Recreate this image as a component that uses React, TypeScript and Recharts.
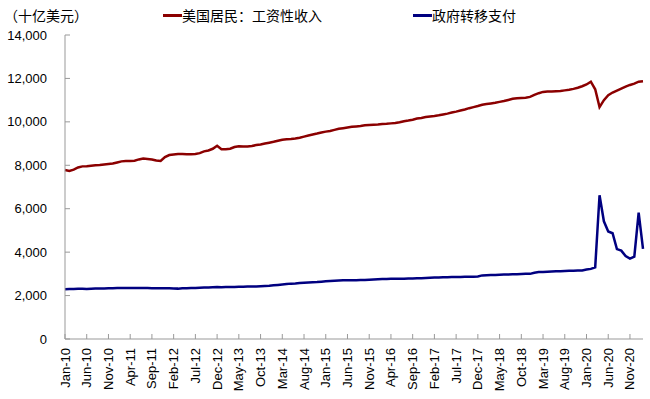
import React from "react";
import { LineChart, Line, XAxis, YAxis } from "recharts";

const MONTHS = ["Jan", "Feb", "Mar", "Apr", "May", "Jun", "Jul", "Aug", "Sep", "Oct", "Nov", "Dec"];
const YEARS = ["10", "11", "12", "13", "14", "15", "16", "17", "18", "19", "20", "21"];

// 美国居民：工资性收入 (十亿美元), Jan-10 .. Feb-21
const wages = [
	7780, 7740, 7800, 7900, 7950, 7960, 7980, 8000, 8010, 8040, 8060, 8080,
	8130, 8180, 8200, 8200, 8210, 8270, 8310, 8290, 8270, 8220, 8200, 8380,
	8470, 8500, 8520, 8520, 8510, 8510, 8520, 8560, 8640, 8680, 8760, 8900,
	8740, 8740, 8760, 8840, 8880, 8870, 8860, 8890, 8930, 8960, 9000, 9040,
	9080, 9130, 9180, 9200, 9210, 9230, 9270, 9320, 9370, 9420, 9460, 9510,
	9550, 9580, 9630, 9680, 9710, 9740, 9770, 9790, 9810, 9840, 9860, 9870,
	9880, 9900, 9910, 9930, 9950, 9980, 10030, 10060, 10100, 10150, 10180, 10220,
	10250, 10270, 10300, 10340, 10380, 10430, 10470, 10520, 10570, 10630, 10680, 10730,
	10790, 10820, 10850, 10880, 10920, 10960, 11010, 11060, 11090, 11100, 11110, 11150,
	11240, 11320, 11380, 11400, 11400, 11410, 11420, 11450, 11480, 11520, 11570, 11640,
	11720, 11850, 11500, 10680, 11000, 11230, 11350, 11440, 11530, 11620, 11700, 11760,
	11850, 11870,
];

// 政府转移支付 (十亿美元), Jan-10 .. Feb-21
const transfers = [
	2290, 2300, 2300, 2310, 2310, 2300, 2310, 2320, 2330, 2330, 2340, 2340,
	2350, 2350, 2350, 2350, 2350, 2350, 2350, 2350, 2340, 2340, 2340, 2340,
	2340, 2330, 2320, 2340, 2340, 2350, 2350, 2360, 2370, 2370, 2380, 2390,
	2380, 2390, 2400, 2400, 2410, 2410, 2420, 2420, 2420, 2430, 2440, 2450,
	2470, 2490, 2510, 2530, 2550, 2560, 2580, 2590, 2600, 2610, 2620, 2640,
	2660, 2670, 2680, 2690, 2700, 2700, 2710, 2710, 2720, 2720, 2730, 2740,
	2750, 2760, 2760, 2770, 2770, 2780, 2780, 2790, 2790, 2800, 2800, 2810,
	2820, 2830, 2830, 2840, 2840, 2850, 2850, 2860, 2870, 2870, 2870, 2880,
	2930, 2940, 2950, 2950, 2960, 2970, 2970, 2980, 2980, 2990, 3000, 3000,
	3050, 3080, 3090, 3100, 3110, 3120, 3120, 3130, 3140, 3140, 3150, 3160,
	3200, 3230, 3300, 6620, 5420, 4950, 4870, 4140, 4070, 3820, 3700, 3790,
	5820, 4150,
];

const yTicks = [0, 2000, 4000, 6000, 8000, 10000, 12000, 14000];

const categories = YEARS.flatMap((y) => MONTHS.map((m) => `${m}-${y}`)).slice(0, wages.length);

const data = categories.map((name, i) => ({ name, wages: wages[i], transfers: transfers[i] }));

const FONT = "'Liberation Sans', Arial, sans-serif";
const CJK = "'Noto Sans CJK SC', sans-serif";
const RED = "#8b0000";
const BLUE = "#000080";

function XTick(props: any) {
	const { x, y, payload } = props;
	return (
		<text
			transform={`translate(${x},${y}) rotate(-90)`}
			textAnchor="end"
			dominantBaseline="central"
			fontSize={13}
			fontFamily={FONT}
			fill="#000"
		>
			{payload.value}
		</text>
	);
}

function LegendItem({ left, color, label }: { left: number; color: string; label: string }) {
	return (
		<div style={{ position: "absolute", left, top: 6, display: "flex", alignItems: "center" }}>
			<div style={{ width: 19, height: 3, background: color }} />
			<span style={{ fontFamily: CJK, fontSize: 14, lineHeight: "18px", color: "#000" }}>{label}</span>
		</div>
	);
}

export default function App() {
	return (
		<div style={{ position: "absolute", left: 0, top: 0, width: 650, height: 399, background: "#fff" }}>
			<LineChart width={650} height={399} data={data} margin={{ top: 35, right: 7, left: 5, bottom: 0 }}>
				<XAxis
					dataKey="name"
					interval={4}
					height={60}
					tickSize={-5}
					tickMargin={14}
					tick={<XTick />}
					axisLine={{ stroke: "#999" }}
					tickLine={{ stroke: "#999" }}
				/>
				<YAxis
					width={60}
					domain={[0, 14000]}
					ticks={yTicks}
					tickSize={-5}
					tickMargin={23}
					tickFormatter={(v: number) => v.toLocaleString("en-US")}
					tick={{ fontSize: 13, fontFamily: FONT, fill: "#000" }}
					axisLine={{ stroke: "#999" }}
					tickLine={{ stroke: "#999" }}
				/>
				<Line
					type="linear"
					dataKey="wages"
					stroke={RED}
					strokeWidth={2.5}
					dot={false}
					isAnimationActive={false}
				/>
				<Line
					type="linear"
					dataKey="transfers"
					stroke={BLUE}
					strokeWidth={2.5}
					dot={false}
					isAnimationActive={false}
				/>
			</LineChart>
			<div
				style={{
					position: "absolute",
					left: 4,
					top: 6,
					fontFamily: CJK,
					fontSize: 14,
					lineHeight: "18px",
					color: "#000",
				}}
			>
				（十亿美元）
			</div>
			<LegendItem left={163} color={RED} label="美国居民：工资性收入" />
			<LegendItem left={413} color={BLUE} label="政府转移支付" />
		</div>
	);
}
